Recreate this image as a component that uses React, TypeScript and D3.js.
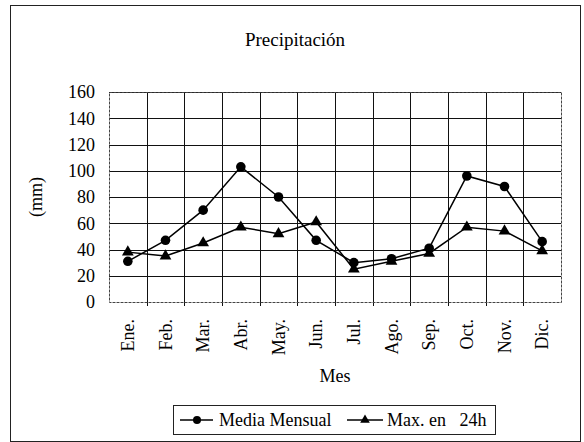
import { useEffect, useRef } from 'react';
import * as d3 from 'd3';

const months = ['Ene.', 'Feb.', 'Mar.', 'Abr.', 'May.', 'Jun.', 'Jul.', 'Ago.', 'Sep.', 'Oct.', 'Nov.', 'Dic.'];
const mediaMensual = [31, 47, 70, 103, 80, 47, 30, 33, 41, 96, 88, 46];
const max24h = [38, 35, 45, 57, 52, 61, 25, 31, 37, 57, 54, 39];
const yTicks = [0, 20, 40, 60, 80, 100, 120, 140, 160];

const W = 584;
const H = 442;
const FONT = 'Liberation Serif, Times New Roman, Times, serif';

const App = () => {
  const svgRef = useRef<SVGSVGElement>(null);

  useEffect(() => {
    if (!svgRef.current) return;
    const svg = d3.select(svgRef.current);
    svg.selectAll('*').remove();

    const plot = { left: 109, right: 561, top: 92, bottom: 302 };

    const x = d3.scaleBand<string>()
      .domain(months)
      .range([plot.left, plot.right]);

    const y = d3.scaleLinear()
      .domain([0, 160])
      .range([plot.bottom, plot.top]);

    // outer frame
    svg.append('rect')
      .attr('x', 10.5).attr('y', 5.5)
      .attr('width', 570).attr('height', 436)
      .attr('fill', 'white')
      .attr('stroke', '#222').attr('stroke-width', 1);

    svg.append('text')
      .attr('x', 295).attr('y', 46)
      .attr('text-anchor', 'middle')
      .style('font-size', '19px')
      .text('Precipitación');

    // horizontal grid
    svg.append('g')
      .selectAll('line')
      .data(yTicks.slice(1))
      .enter()
      .append('line')
      .attr('x1', plot.left).attr('x2', plot.right)
      .attr('y1', d => Math.round(y(d)) + 0.5)
      .attr('y2', d => Math.round(y(d)) + 0.5)
      .attr('stroke', '#111').attr('stroke-width', 1);

    // vertical grid at category boundaries
    svg.append('g')
      .selectAll('line')
      .data(months.slice(1))
      .enter()
      .append('line')
      .attr('x1', d => Math.round(x(d)!) + 0.5)
      .attr('x2', d => Math.round(x(d)!) + 0.5)
      .attr('y1', plot.top).attr('y2', plot.bottom + 4)
      .attr('stroke', '#111').attr('stroke-width', 1);

    // plot border
    svg.append('rect')
      .attr('x', plot.left + 0.5).attr('y', plot.top + 0.5)
      .attr('width', plot.right - plot.left).attr('height', plot.bottom - plot.top)
      .attr('fill', 'none')
      .attr('stroke', '#444').attr('stroke-width', 1)
      .attr('stroke-dasharray', '3,1');

    // y tick labels
    svg.append('g')
      .selectAll('text')
      .data(yTicks)
      .enter()
      .append('text')
      .attr('x', 95)
      .attr('y', d => y(d))
      .attr('dy', '0.35em')
      .attr('text-anchor', 'end')
      .text(d => d);

    svg.append('text')
      .attr('transform', `translate(36, ${(plot.top + plot.bottom) / 2}) rotate(-90)`)
      .attr('text-anchor', 'middle')
      .attr('dy', '0.35em')
      .text('(mm)');

    // x tick labels
    svg.append('g')
      .selectAll('text')
      .data(months)
      .enter()
      .append('text')
      .attr('transform', d => `translate(${x(d)! + x.bandwidth() / 2}, 319) rotate(-90)`)
      .attr('text-anchor', 'end')
      .attr('dy', '0.35em')
      .text(d => d);

    svg.append('text')
      .attr('x', (plot.left + plot.right) / 2).attr('y', 382)
      .attr('text-anchor', 'middle')
      .text('Mes');

    const cx = (d: string) => x(d)! + x.bandwidth() / 2;

    const line = d3.line<number>()
      .x((_, i) => cx(months[i]))
      .y(d => y(d));

    svg.append('path')
      .datum(mediaMensual)
      .attr('d', line)
      .attr('fill', 'none')
      .attr('stroke', '#000').attr('stroke-width', 1.5);

    svg.append('path')
      .datum(max24h)
      .attr('d', line)
      .attr('fill', 'none')
      .attr('stroke', '#000').attr('stroke-width', 1.5);

    const tri = d3.symbol().type(d3.symbolTriangle).size(60);

    svg.append('g')
      .selectAll('circle')
      .data(mediaMensual)
      .enter()
      .append('circle')
      .attr('cx', (_, i) => cx(months[i]))
      .attr('cy', d => y(d))
      .attr('r', 4.8)
      .attr('fill', '#000');

    svg.append('g')
      .selectAll('path')
      .data(max24h)
      .enter()
      .append('path')
      .attr('transform', (d, i) => `translate(${cx(months[i])}, ${y(d)})`)
      .attr('d', tri)
      .attr('fill', '#000');

    // legend
    const lg = svg.append('g');
    lg.append('rect')
      .attr('x', 173.5).attr('y', 405.5)
      .attr('width', 322).attr('height', 29)
      .attr('fill', 'white')
      .attr('stroke', '#222').attr('stroke-width', 1);

    const ly = 420;
    const legendTri = d3.symbol().type(d3.symbolTriangle).size(40);
    lg.append('line').attr('x1', 180).attr('x2', 213).attr('y1', ly).attr('y2', ly)
      .attr('stroke', '#000').attr('stroke-width', 1.5);
    lg.append('circle').attr('cx', 197).attr('cy', ly).attr('r', 4).attr('fill', '#000');
    lg.append('text').attr('x', 219).attr('y', ly).attr('dy', '0.35em')
      .text('Media Mensual');

    lg.append('line').attr('x1', 347).attr('x2', 383).attr('y1', ly).attr('y2', ly)
      .attr('stroke', '#000').attr('stroke-width', 1.5);
    lg.append('path').attr('transform', `translate(365, ${ly})`).attr('d', legendTri).attr('fill', '#000');
    lg.append('text').attr('x', 387).attr('y', ly).attr('dy', '0.35em')
      .style('white-space', 'pre')
      .text('Max. en   24h');
  }, []);

  return (
    <svg
      ref={svgRef}
      width={W}
      height={H}
      style={{
        position: 'absolute',
        left: 0,
        top: 0,
        background: 'white',
        fontFamily: FONT,
        fontSize: '18px',
      }}
    />
  );
};

export default App;
